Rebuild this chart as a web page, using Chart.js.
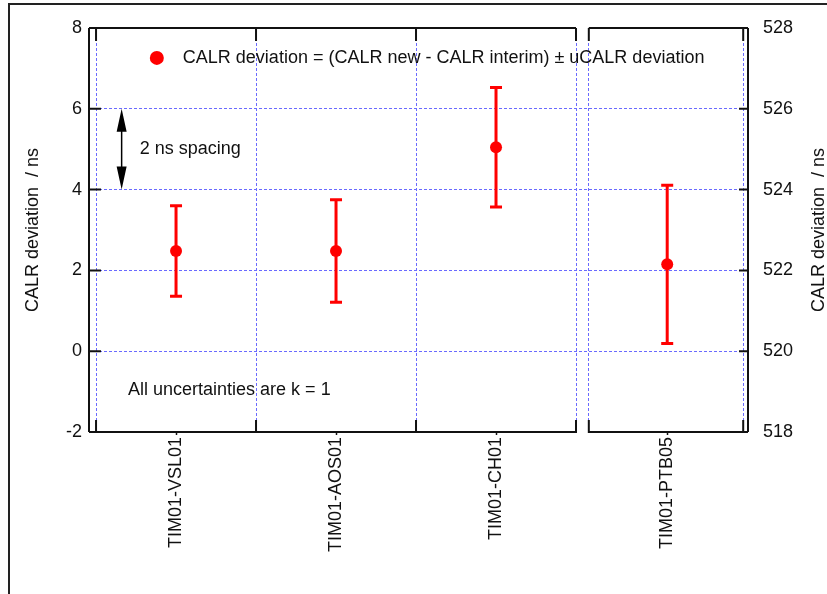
<!DOCTYPE html>
<html>
<head>
<meta charset="utf-8">
<script src="https://cdn.jsdelivr.net/npm/chart.js@4.4.0/dist/chart.umd.min.js"></script>
<style>
  html, body { margin: 0; padding: 0; background: #fff; overflow: hidden; }
  #wrap { position: relative; width: 860px; height: 594px; }
  #frame { position: absolute; left: 8px; top: 3px; width: 900px; height: 700px;
           border-left: 2px solid #222; border-top: 2px solid #222; pointer-events: none; }
</style>
</head>
<body>
<div id="wrap"><canvas id="chart"></canvas><div id="frame"></div></div>
<script>
// data
const categories = ['TIM01-VSL01', 'TIM01-AOS01', 'TIM01-CH01', 'TIM01-PTB05'];
const catPos = [0.5, 1.5, 2.5, 3.57];
const deviation = [2.48, 2.48, 5.05, 2.15];
const uncertainty = [1.12, 1.27, 1.48, 1.96];

// axis layout (x units are category widths, broken after the 3rd one)
const gridX = [0, 1, 2, 3, 3.08, 4.045];
const breakAt = [3, 3.08];
const xMin = -0.044, xMax = 4.075;

const FONT = '"Liberation Sans", Arial, sans-serif';
const GRID = '#6a6aff';

const decor = {
  id: 'decor',
  beforeDatasetsDraw(chart) {
    const { ctx, scales: { x, y } } = chart;
    ctx.save();
    ctx.strokeStyle = '#ff0000';
    ctx.lineWidth = 3;
    catPos.forEach((p, i) => {
      const px = x.getPixelForValue(p);
      const top = y.getPixelForValue(deviation[i] + uncertainty[i]);
      const bot = y.getPixelForValue(deviation[i] - uncertainty[i]);
      ctx.beginPath();
      ctx.moveTo(px, top); ctx.lineTo(px, bot);
      ctx.moveTo(px - 6, top); ctx.lineTo(px + 6, top);
      ctx.moveTo(px - 6, bot); ctx.lineTo(px + 6, bot);
      ctx.stroke();
    });
    ctx.restore();
  },
  afterDraw(chart) {
    const { ctx, chartArea: a, scales: { x, y } } = chart;
    const b0 = x.getPixelForValue(breakAt[0]);
    const b1 = x.getPixelForValue(breakAt[1]);
    ctx.save();

    // box with axis break
    ctx.strokeStyle = '#111';
    ctx.lineWidth = 2;
    ctx.beginPath();
    ctx.moveTo(a.left, a.top); ctx.lineTo(a.left, a.bottom);
    ctx.moveTo(a.right, a.top); ctx.lineTo(a.right, a.bottom);
    [a.top, a.bottom].forEach(yy => {
      ctx.moveTo(a.left, yy); ctx.lineTo(b0, yy);
      ctx.moveTo(b1, yy); ctx.lineTo(a.right, yy);
    });
    // inward ticks
    y.ticks.forEach(t => {
      const py = y.getPixelForValue(t.value);
      ctx.moveTo(a.left, py); ctx.lineTo(a.left + 12, py);
      ctx.moveTo(a.right, py); ctx.lineTo(a.right - 9, py);
    });
    gridX.forEach(v => {
      const px = x.getPixelForValue(v);
      ctx.moveTo(px, a.top); ctx.lineTo(px, a.top + 13);
      ctx.moveTo(px, a.bottom + 1); ctx.lineTo(px, a.bottom - 12);
    });
    ctx.stroke();

    // 2 ns arrow
    const ax = x.getPixelForValue(0.16);
    const y6 = y.getPixelForValue(6), y4 = y.getPixelForValue(4);
    ctx.fillStyle = '#000';
    ctx.strokeStyle = '#000';
    ctx.lineWidth = 1.5;
    ctx.beginPath();
    ctx.moveTo(ax, y6 + 20); ctx.lineTo(ax, y4 - 20);
    ctx.stroke();
    ctx.beginPath();
    ctx.moveTo(ax, y6); ctx.lineTo(ax - 5, y6 + 23); ctx.lineTo(ax + 5, y6 + 23); ctx.closePath();
    ctx.moveTo(ax, y4); ctx.lineTo(ax - 5, y4 - 23); ctx.lineTo(ax + 5, y4 - 23); ctx.closePath();
    ctx.fill();

    ctx.font = '18px ' + FONT;
    ctx.fillStyle = '#111';
    ctx.textBaseline = 'middle';
    ctx.textAlign = 'left';
    ctx.fillText('2 ns spacing', ax + 18, y.getPixelForValue(5));
    ctx.fillText('All uncertainties are k = 1', x.getPixelForValue(0.2), y.getPixelForValue(-0.95));

    // legend inside plot
    const lx = x.getPixelForValue(0.38), ly = y.getPixelForValue(7.26);
    ctx.fillStyle = '#ff0000';
    ctx.beginPath();
    ctx.arc(lx, ly, 7, 0, Math.PI * 2);
    ctx.fill();
    ctx.fillStyle = '#111';
    ctx.fillText('CALR deviation = (CALR new - CALR interim) \u00b1 uCALR deviation', lx + 26, ly);

    // right axis title, reading upwards like the left one
    ctx.translate(a.right + 71, (a.top + a.bottom) / 2);
    ctx.rotate(-Math.PI / 2);
    ctx.textAlign = 'center';
    ctx.fillText('CALR deviation  / ns', 0, 0);
    ctx.restore();
  }
};

new Chart(document.getElementById('chart'), {
  type: 'scatter',
  data: {
    datasets: [{
      label: 'CALR deviation',
      data: catPos.map((p, i) => ({ x: p, y: deviation[i] })),
      xAxisID: 'x',
      yAxisID: 'y',
      pointRadius: 6,
      pointHoverRadius: 6,
      backgroundColor: '#ff0000',
      borderWidth: 0
    }]
  },
  options: {
    responsive: true,
    maintainAspectRatio: false,
    animation: false,
    events: [],
    layout: { padding: 0 },
    plugins: { legend: { display: false }, tooltip: { enabled: false } },
    scales: {
      x: {
        type: 'linear',
        position: 'bottom',
        min: xMin,
        max: xMax,
        afterBuildTicks: s => { s.ticks = catPos.map(v => ({ value: v })); },
        afterFit: s => { s.height = 162; },
        ticks: {
          autoSkip: false,
          minRotation: 90,
          maxRotation: 90,
          padding: 2,
          color: '#111',
          font: { family: FONT, size: 18 },
          callback: (v, i) => categories[i]
        },
        grid: { display: true, drawOnChartArea: false, drawTicks: true, tickLength: 3, tickColor: '#111', tickWidth: 1.5 },
        border: { display: false }
      },
      x2: {
        type: 'linear',
        position: 'top',
        min: xMin,
        max: xMax,
        afterBuildTicks: s => { s.ticks = gridX.map(v => ({ value: v })); },
        afterFit: s => { s.height = 28; },
        ticks: { display: false },
        grid: { color: GRID, lineWidth: 1, drawTicks: false },
        border: { display: false, dash: [3, 2] }
      },
      y: {
        position: 'left',
        min: -2,
        max: 8,
        afterFit: s => { s.width = 89; },
        ticks: { stepSize: 2, padding: 7, color: '#111', font: { family: FONT, size: 18 } },
        grid: {
          color: c => (c.tick && (c.tick.value === -2 || c.tick.value === 8)) ? 'rgba(0,0,0,0)' : GRID,
          lineWidth: 1,
          drawTicks: false
        },
        border: { display: false, dash: [3, 2] },
        title: {
          display: true,
          text: 'CALR deviation  / ns',
          color: '#111',
          font: { family: FONT, size: 18 },
          padding: { top: 22, bottom: 0 }
        }
      },
      y2: {
        position: 'right',
        min: 518,
        max: 528,
        afterFit: s => { s.width = 112; },
        ticks: { stepSize: 2, padding: 7, color: '#111', font: { family: FONT, size: 18 } },
        grid: { display: false },
        border: { display: false }
      }
    }
  },
  plugins: [decor]
});
</script>
</body>
</html>
